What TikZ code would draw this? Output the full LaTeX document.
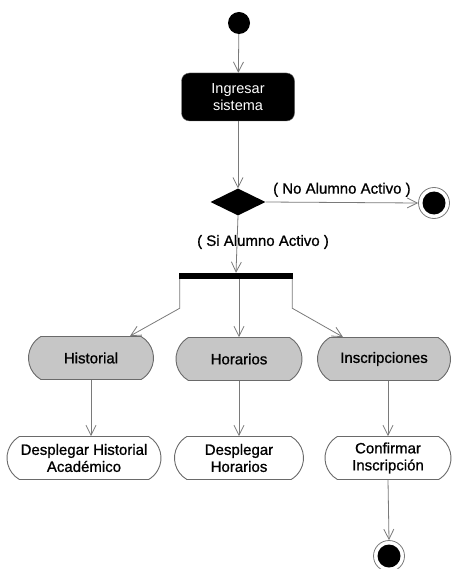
\documentclass[tikz,border=0pt]{standalone}
\usepackage{fontspec}
\setmainfont{Liberation Sans}
\newfontfamily\heavysans{Liberation Sans}[FakeBold=0.9]
\usetikzlibrary{arrows.meta,shapes.geometric,shapes.misc}
\definecolor{linegray}{HTML}{7A7A7A}
\definecolor{edgegray}{HTML}{6A6A6A}
\definecolor{actfill}{HTML}{C6C6C6}
\tikzset{
  txt/.style={font=\heavysans\fontsize{15}{17}\selectfont, text=black},
  arr/.style={draw=linegray, line width=0.8pt, -{Straight Barb[length=10pt,width=10pt,line width=0.8pt]}},
  act/.style={txt, rounded rectangle, rounded rectangle arc length=120, draw=edgegray,
    line width=0.9pt, minimum height=43pt, inner xsep=2pt, align=center},
  sub/.style={act, fill=actfill},
  leaf/.style={act, fill=white},
  startdot/.style={circle, fill=black, minimum size=22pt, inner sep=0pt},
  enddot/.style={circle, draw=linegray, line width=0.8pt, fill=white, minimum size=31pt, inner sep=0pt,
    path picture={\fill[black] (path picture bounding box.center) circle (11.5pt);}},
}
\begin{document}
\begin{tikzpicture}[x=1pt,y=-1pt]
\useasboundingbox (0,0) rectangle (453,569);

% initial and decision part
\node[startdot] (start) at (239,23) {};
\node[font=\fontsize{14.5}{17}\selectfont, fill=black, draw=edgegray, rounded corners=8pt,
      minimum width=113pt, minimum height=48pt, align=center, text=white] (ing) at (238,97) {Ingresar\\sistema};
\node[diamond, fill=black, minimum width=55pt, minimum height=27pt, inner sep=0pt] (dec) at (238,202) {};
\node[enddot] (endA) at (434,203) {};
\node[fill=black, minimum width=114pt, minimum height=6pt, inner sep=0pt] (bar) at (236,276) {};

% activity states
\node[sub, minimum width=129pt] (hist) at (91,358) {Historial};
\node[sub, minimum width=130pt] (hor) at (239,359) {Horarios};
\node[sub, minimum width=137pt] (insc) at (384,359) {Inscripciones};

\node[leaf, minimum width=158pt] (dh) at (84,458) {Desplegar Historial\\Académico};
\node[leaf, minimum width=133pt] (dhor) at (239,458) {Desplegar\\Horarios};
\node[leaf, minimum width=130pt] (conf) at (388,458) {Confirmar\\Inscripción};
\node[enddot] (endB) at (389,556) {};

% transitions
\draw[arr] (start) -- (ing);
\draw[arr] (ing) -- (dec.north);
\draw[arr] (dec.east) -- (endA.west)
  node[txt, midway, above=2pt] (noact) {( No Alumno Activo )};
\draw[arr] (dec.south) -- (bar.north);
\node[txt] (siact) at (263,242) {( Si Alumno Activo )};

\draw[arr] ([xshift=1pt]bar.south west) -- ++(0,29) -- ([xshift=39pt]hist.north);
\draw[arr] (hor.north |- bar.south) -- (hor.north);
\draw[arr] ([xshift=-1pt]bar.south east) -- ++(0,29) -- ([xshift=-41pt]insc.north);

\draw[arr] (hist.south) -- (hist.south |- dh.north);
\draw[arr] (hor.south) -- (dhor.north);
\draw[arr] (conf.north |- insc.south) -- (conf.north);
\draw[arr] (conf.south) -- (endB.north);
\end{tikzpicture}
\end{document}
